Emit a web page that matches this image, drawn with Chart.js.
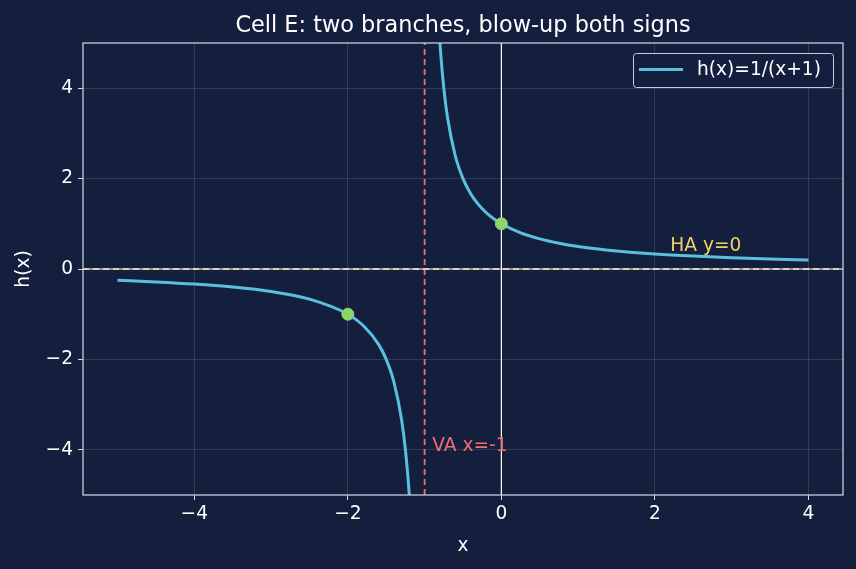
<!DOCTYPE html>
<html>
<head>
<meta charset="utf-8">
<script src="https://cdn.jsdelivr.net/npm/chart.js@4.4.0/dist/chart.umd.min.js"></script>
<style>
  html, body { margin: 0; padding: 0; background: #141f3e; }
  #wrap { width: 856px; height: 569px; }
</style>
</head>
<body>
<div id="wrap"><canvas id="myChart" width="856" height="569"></canvas></div>
<script>
// values
var leftX = [-5, -4.5, -4, -3.5, -3, -2.5, -2, -1.8, -1.6, -1.5, -1.4, -1.3, -1.25, -1.2, -1.15, -1.1];
var leftY = [-0.25, -0.286, -0.333, -0.4, -0.5, -0.667, -1, -1.25, -1.667, -2, -2.5, -3.333, -4, -5, -6.667, -10];
var rightX = [-0.9, -0.85, -0.8, -0.75, -0.7, -0.6, -0.5, -0.4, -0.3, -0.2, -0.1, 0, 0.25, 0.5, 0.75, 1, 1.5, 2, 2.5, 3, 3.5, 4];
var rightY = [10, 6.667, 5, 4, 3.333, 2.5, 2, 1.667, 1.429, 1.25, 1.111, 1, 0.8, 0.667, 0.571, 0.5, 0.4, 0.333, 0.286, 0.25, 0.222, 0.2];
var markX = [-2, 0];
var markY = [-1, 1];
var xTicks = [-4, -2, 0, 2, 4];
var yTicks = [-4, -2, 0, 2, 4];
var xRange = [-5.45, 4.45];
var yRange = [-5, 5];
var vaX = -1;
var haY = 0;

var FONT = "'DejaVu Sans', sans-serif";
var FS = 18.6;

function pts(xs, ys) {
    var out = [];
    for (var i = 0; i < xs.length; i++) out.push({ x: xs[i], y: ys[i] });
    return out;
}

function tickLabel(v) {
    return v < 0 ? '\u2212' + Math.abs(v) : String(v);
}

var decor = {
    id: 'decor',
    beforeDraw: function(chart) {
        var c = chart.ctx;
        c.save();
        c.fillStyle = '#141f3e';
        c.fillRect(0, 0, chart.width, chart.height);
        c.restore();
    },
    afterDraw: function(chart) {
        var c = chart.ctx, a = chart.chartArea;
        var xs = chart.scales.x, ys = chart.scales.y;
        c.save();
        // spines
        c.strokeStyle = '#d4dae6';
        c.lineWidth = 1.2;
        c.strokeRect(a.left, a.top, a.right - a.left, a.bottom - a.top);
        // title
        c.fillStyle = '#ffffff';
        c.font = '22.4px ' + FONT;
        c.textAlign = 'center';
        c.textBaseline = 'alphabetic';
        c.fillText('Cell E: two branches, blow-up both signs', (a.left + a.right) / 2, 32);
        // annotations
        c.font = FS + 'px ' + FONT;
        c.textAlign = 'left';
        c.fillStyle = '#f07070';
        c.fillText('VA x=-1', xs.getPixelForValue(-0.9), ys.getPixelForValue(-4) + 1);
        c.fillStyle = '#f0d264';
        c.fillText('HA y=0', xs.getPixelForValue(2.2), ys.getPixelForValue(0.4));
        // legend
        var lx = 633, ly = 53;
        c.fillStyle = 'rgba(20,31,62,0.85)';
        c.strokeStyle = '#c8cfdc';
        c.lineWidth = 1;
        c.beginPath();
        c.roundRect(lx + 0.5, ly + 0.5, 200, 34, 3);
        c.fill();
        c.stroke();
        c.strokeStyle = '#5bc0de';
        c.lineWidth = 3;
        c.beginPath();
        c.moveTo(lx + 6, ly + 16.5);
        c.lineTo(lx + 50, ly + 16.5);
        c.stroke();
        c.fillStyle = '#ffffff';
        c.font = FS + 'px ' + FONT;
        c.textBaseline = 'middle';
        c.fillText('h(x)=1/(x+1)', lx + 64, ly + 17);
        c.restore();
    }
};

var ctx = document.getElementById('myChart').getContext('2d');
var myChart = new Chart(ctx, {
    type: 'scatter',
    data: {
        datasets: [{
            label: 'xaxis',
            data: [{ x: 0, y: yRange[0] }, { x: 0, y: yRange[1] }],
            showLine: true, borderColor: '#ffffff', borderWidth: 1.2, pointRadius: 0, order: 6
        }, {
            label: 'yaxis',
            data: [{ x: xRange[0], y: 0 }, { x: xRange[1], y: 0 }],
            showLine: true, borderColor: '#ffffff', borderWidth: 1.2, pointRadius: 0, order: 5
        }, {
            label: 'h(x)=1/(x+1)',
            data: pts(leftX, leftY),
            showLine: true, borderColor: '#5bc0de', borderWidth: 3, pointRadius: 0,
            cubicInterpolationMode: 'monotone', order: 4
        }, {
            label: 'right',
            data: pts(rightX, rightY),
            showLine: true, borderColor: '#5bc0de', borderWidth: 3, pointRadius: 0,
            cubicInterpolationMode: 'monotone', order: 4
        }, {
            label: 'VA',
            data: [{ x: vaX, y: yRange[0] }, { x: vaX, y: yRange[1] }],
            showLine: true, borderColor: '#f07070', borderWidth: 1.8, borderDash: [6, 4],
            pointRadius: 0, order: 3
        }, {
            label: 'HA',
            data: [{ x: xRange[0], y: haY }, { x: xRange[1], y: haY }],
            showLine: true, borderColor: '#f5e9b8', borderWidth: 1.4, borderDash: [6, 4],
            pointRadius: 0, order: 2
        }, {
            label: 'marks',
            data: pts(markX, markY),
            backgroundColor: '#8ed36b', borderColor: '#8ed36b', pointRadius: 6, order: 1
        }]
    },
    options: {
        responsive: false,
        animation: false,
        layout: { padding: { left: 0, right: 13, top: 43, bottom: 0 } },
        plugins: { legend: { display: false }, tooltip: { enabled: false }, title: { display: false } },
        scales: {
            x: {
                type: 'linear', min: xRange[0], max: xRange[1],
                afterBuildTicks: function(s) { s.ticks = xTicks.map(function(v) { return { value: v }; }); },
                afterFit: function(s) { s.height = 74; },
                grid: { color: 'rgba(255,255,255,0.12)', tickColor: '#d4dae6', tickLength: 5 },
                border: { display: false },
                ticks: { color: '#ffffff', font: { family: FONT, size: FS }, padding: 3, maxRotation: 0, callback: tickLabel },
                title: { display: true, text: 'x', color: '#ffffff', font: { family: FONT, size: FS }, padding: 12 }
            },
            y: {
                type: 'linear', min: yRange[0], max: yRange[1],
                afterBuildTicks: function(s) { s.ticks = yTicks.map(function(v) { return { value: v }; }); },
                afterFit: function(s) { s.width = 83; },
                grid: { color: 'rgba(255,255,255,0.12)', tickColor: '#d4dae6', tickLength: 5 },
                border: { display: false },
                ticks: { color: '#ffffff', font: { family: FONT, size: FS }, padding: 5, callback: tickLabel },
                title: { display: true, text: 'h(x)', color: '#ffffff', font: { family: FONT, size: FS }, padding: 13 }
            }
        }
    },
    plugins: [decor]
});
</script>
</body>
</html>
